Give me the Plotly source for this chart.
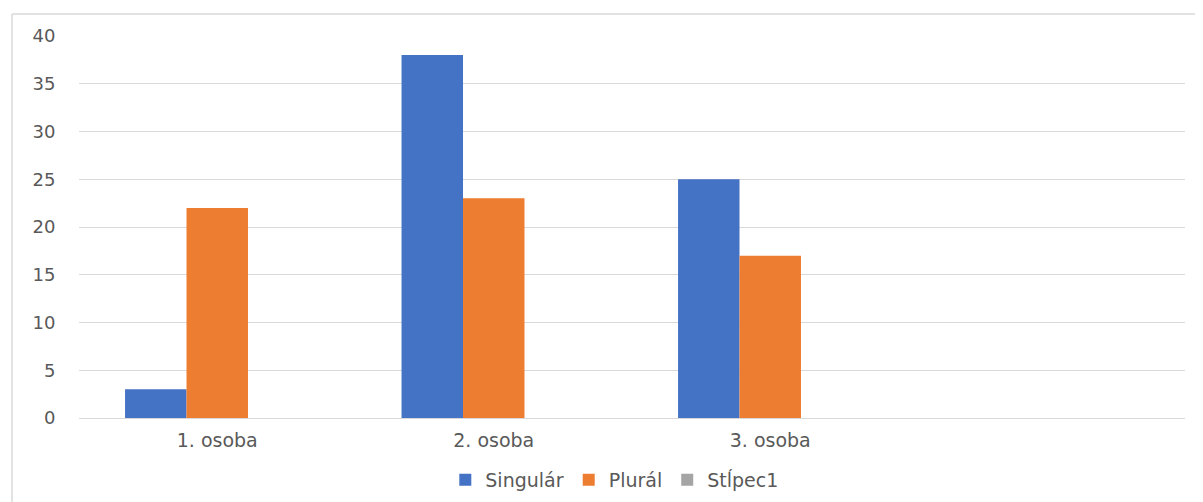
import plotly.graph_objects as go

categories = ["1. osoba", "2. osoba", "3. osoba", " "]
singular = [3, 38, 25, None]
plural = [22, 23, 17, None]
stlpec1 = [None, None, None, None]
series_names = ["Singulár", "Plurál", "Stĺpec1"]
colors = ["#4472C4", "#ED7D31", "#A5A5A5"]
y_ticks = [0, 5, 10, 15, 20, 25, 30, 35, 40]

OFF = 8  # page body margin
W, H = 1203 - OFF, 502 - OFF
L, R, T = 79 - OFF, 18, 36 - OFF
B = H - (418 - OFF)
pw, ph = W - L - R, H - T - B

def px_x(p):
    return (p - OFF - L) / pw

def px_y(p):
    return (H - B - (p - OFF)) / ph

fig = go.Figure()
for name, vals, col in zip(series_names, [singular, plural, stlpec1], colors):
    fig.add_trace(go.Bar(x=categories, y=vals, name=name, marker_color=col,
                         marker_line_width=0))

font_family = "DejaVu Sans, Verdana, sans-serif"
fig.update_layout(
    width=W, height=H,
    margin=dict(l=L, r=R, t=T, b=B, pad=0, autoexpand=False),
    paper_bgcolor="white", plot_bgcolor="white",
    barmode="group", bargap=0.333, bargroupgap=0,
    font=dict(family=font_family, color="#595959", size=18),
    showlegend=True,
    legend=dict(orientation="h", x=0.484, xanchor="center", y=px_y(480), yanchor="middle",
                font=dict(size=19, color="#595959"), itemwidth=30, traceorder="normal"),
    xaxis=dict(type="category", categoryorder="array", categoryarray=categories,
               range=[-0.5, 3.5], showgrid=False, showline=False, zeroline=False,
               ticks="outside", ticklen=5, tickcolor="rgba(0,0,0,0)",
               tickfont=dict(size=19, color="#595959")),
    yaxis=dict(range=[0, 40], tickvals=y_ticks, showgrid=True, gridcolor="#D9D9D9",
               gridwidth=1.3, zeroline=True, zerolinecolor="#D9D9D9", zerolinewidth=1.3,
               showline=False, ticks="outside", ticklen=19, tickcolor="rgba(0,0,0,0)",
               tickfont=dict(size=18, color="#595959")),
    shapes=[
        dict(type="line", xref="paper", yref="paper", x0=px_x(12), x1=px_x(1215),
             y0=px_y(14), y1=px_y(14), line=dict(color="#D9D9D9", width=1.5)),
        dict(type="line", xref="paper", yref="paper", x0=px_x(12), x1=px_x(12),
             y0=px_y(14), y1=px_y(510), line=dict(color="#D9D9D9", width=1.5)),
    ],
)

fig.write_html("out.html")
